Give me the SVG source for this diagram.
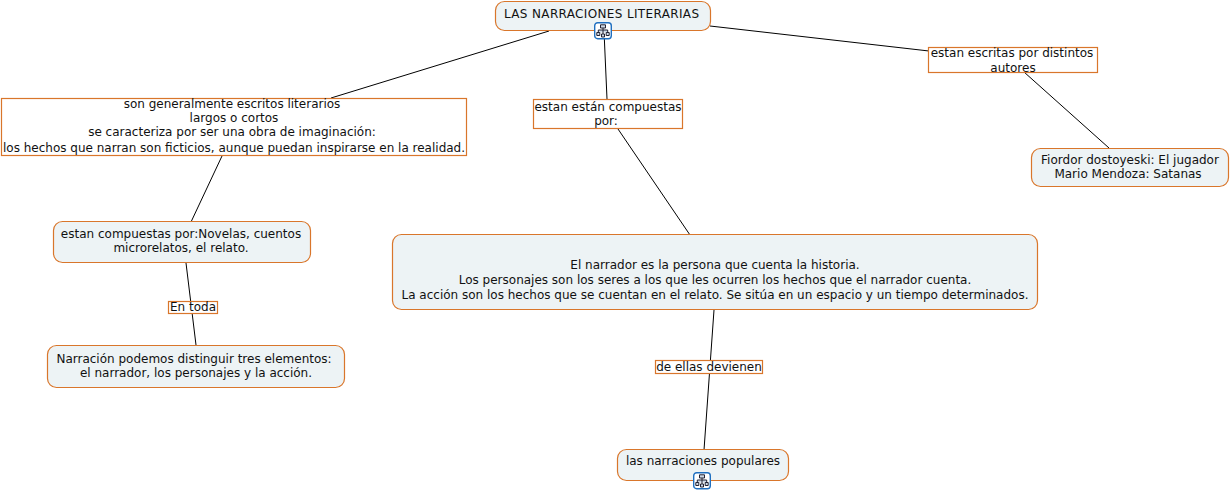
<svg xmlns="http://www.w3.org/2000/svg" width="1231" height="492" viewBox="0 0 1231 492">
<defs>
<style>
.n{fill:#edf3f5;stroke:#d9762b;stroke-width:1.2}
.l{fill:#fff;stroke:#d9762b;stroke-width:1.2}
.c{fill:none;stroke:#000;stroke-width:1}
text{font-family:"DejaVu Sans",Verdana,sans-serif;font-size:12px;fill:#111;text-anchor:middle}
</style>
<g id="tree">
<rect x="0.700" y="0.700" width="16.600" height="16" rx="3" fill="#fff" stroke="#1f6fc0" stroke-width="1.4"/>
<path d="M6.500 2.800h5v3.200h-5zM2.800 10.500h3v3h-3zM7.500 12h3v3h-3zM12.200 10.500h3v3h-3zM9 6v6M4.300 10.500V8h9.400v2.500" fill="#cdd9e6" stroke="#223" stroke-width="1"/>
</g>
</defs>
<rect width="1231" height="492" fill="#fff"/>
<g id="connectors">
<path class="c" d="M549 31 331 98"/>
<path class="c" d="M604 31 607 99"/>
<path class="c" d="M710 26 929 51"/>
<path class="c" d="M1024 72 1109 148"/>
<path class="c" d="M618 129 690 235"/>
<path class="c" d="M222 156 191 222"/>
<path class="c" d="M186 263 196 345"/>
<path class="c" d="M714 310 704 450"/>
</g>
<g id="n1"><rect class="n" x="495.500" y="1.500" width="215" height="29" rx="9"/><text x="601.500" y="18" textLength="195">LAS NARRACIONES LITERARIAS</text></g>
<use href="#tree" x="594" y="22"/>
<g id="n2"><rect class="l" x="1.500" y="98.500" width="465" height="57"/><text x="232" y="108">son generalmente escritos literarios</text><text x="234" y="122">largos o cortos</text><text x="232" y="136">se caracteriza por ser una obra de imaginación:</text><text x="234" y="152">los hechos que narran son ficticios, aunque puedan inspirarse en la realidad.</text></g>
<g id="n3"><rect class="l" x="533.500" y="99.500" width="149" height="29"/><text x="608" y="111">estan están compuestas</text><text x="606" y="125">por:</text></g>
<g id="n4"><rect class="l" x="928.500" y="47.500" width="169" height="25"/><text x="1012" y="57">estan escritas por distintos</text><text x="1013" y="72">autores</text></g>
<g id="n5"><rect class="n" x="1031.500" y="148.500" width="197" height="38" rx="9"/><text x="1130" y="164">Fiordor dostoyeski: El jugador</text><text x="1128" y="178">Mario Mendoza: Satanas</text></g>
<g id="n6"><rect class="n" x="53.500" y="221.500" width="257" height="41" rx="9"/><text x="181" y="238">estan compuestas por:Novelas, cuentos</text><text x="181" y="252">microrelatos, el relato.</text></g>
<g id="n7"><rect class="l" x="168.500" y="301.500" width="49" height="12"/><text x="193" y="311">En toda</text></g>
<g id="n8"><rect class="n" x="47.500" y="345.500" width="297" height="42" rx="9"/><text x="194" y="363">Narración podemos distinguir tres elementos:</text><text x="196" y="377">el narrador, los personajes y la acción.</text></g>
<g id="n9"><rect class="n" x="392.500" y="234.500" width="645" height="75" rx="9"/><text x="715" y="269">El narrador es la persona que cuenta la historia.</text><text x="715" y="284">Los personajes son los seres a los que les ocurren los hechos que el narrador cuenta.</text><text x="715" y="299">La acción son los hechos que se cuentan en el relato. Se sitúa en un espacio y un tiempo determinados.</text></g>
<g id="n10"><rect class="l" x="655.500" y="360.500" width="107" height="13"/><text x="709" y="371">de ellas devienen</text></g>
<g id="n11"><rect class="n" x="617.500" y="449.500" width="171" height="31" rx="9"/><text x="703" y="465">las narraciones populares</text></g>
<use href="#tree" x="693" y="472"/>
</svg>
